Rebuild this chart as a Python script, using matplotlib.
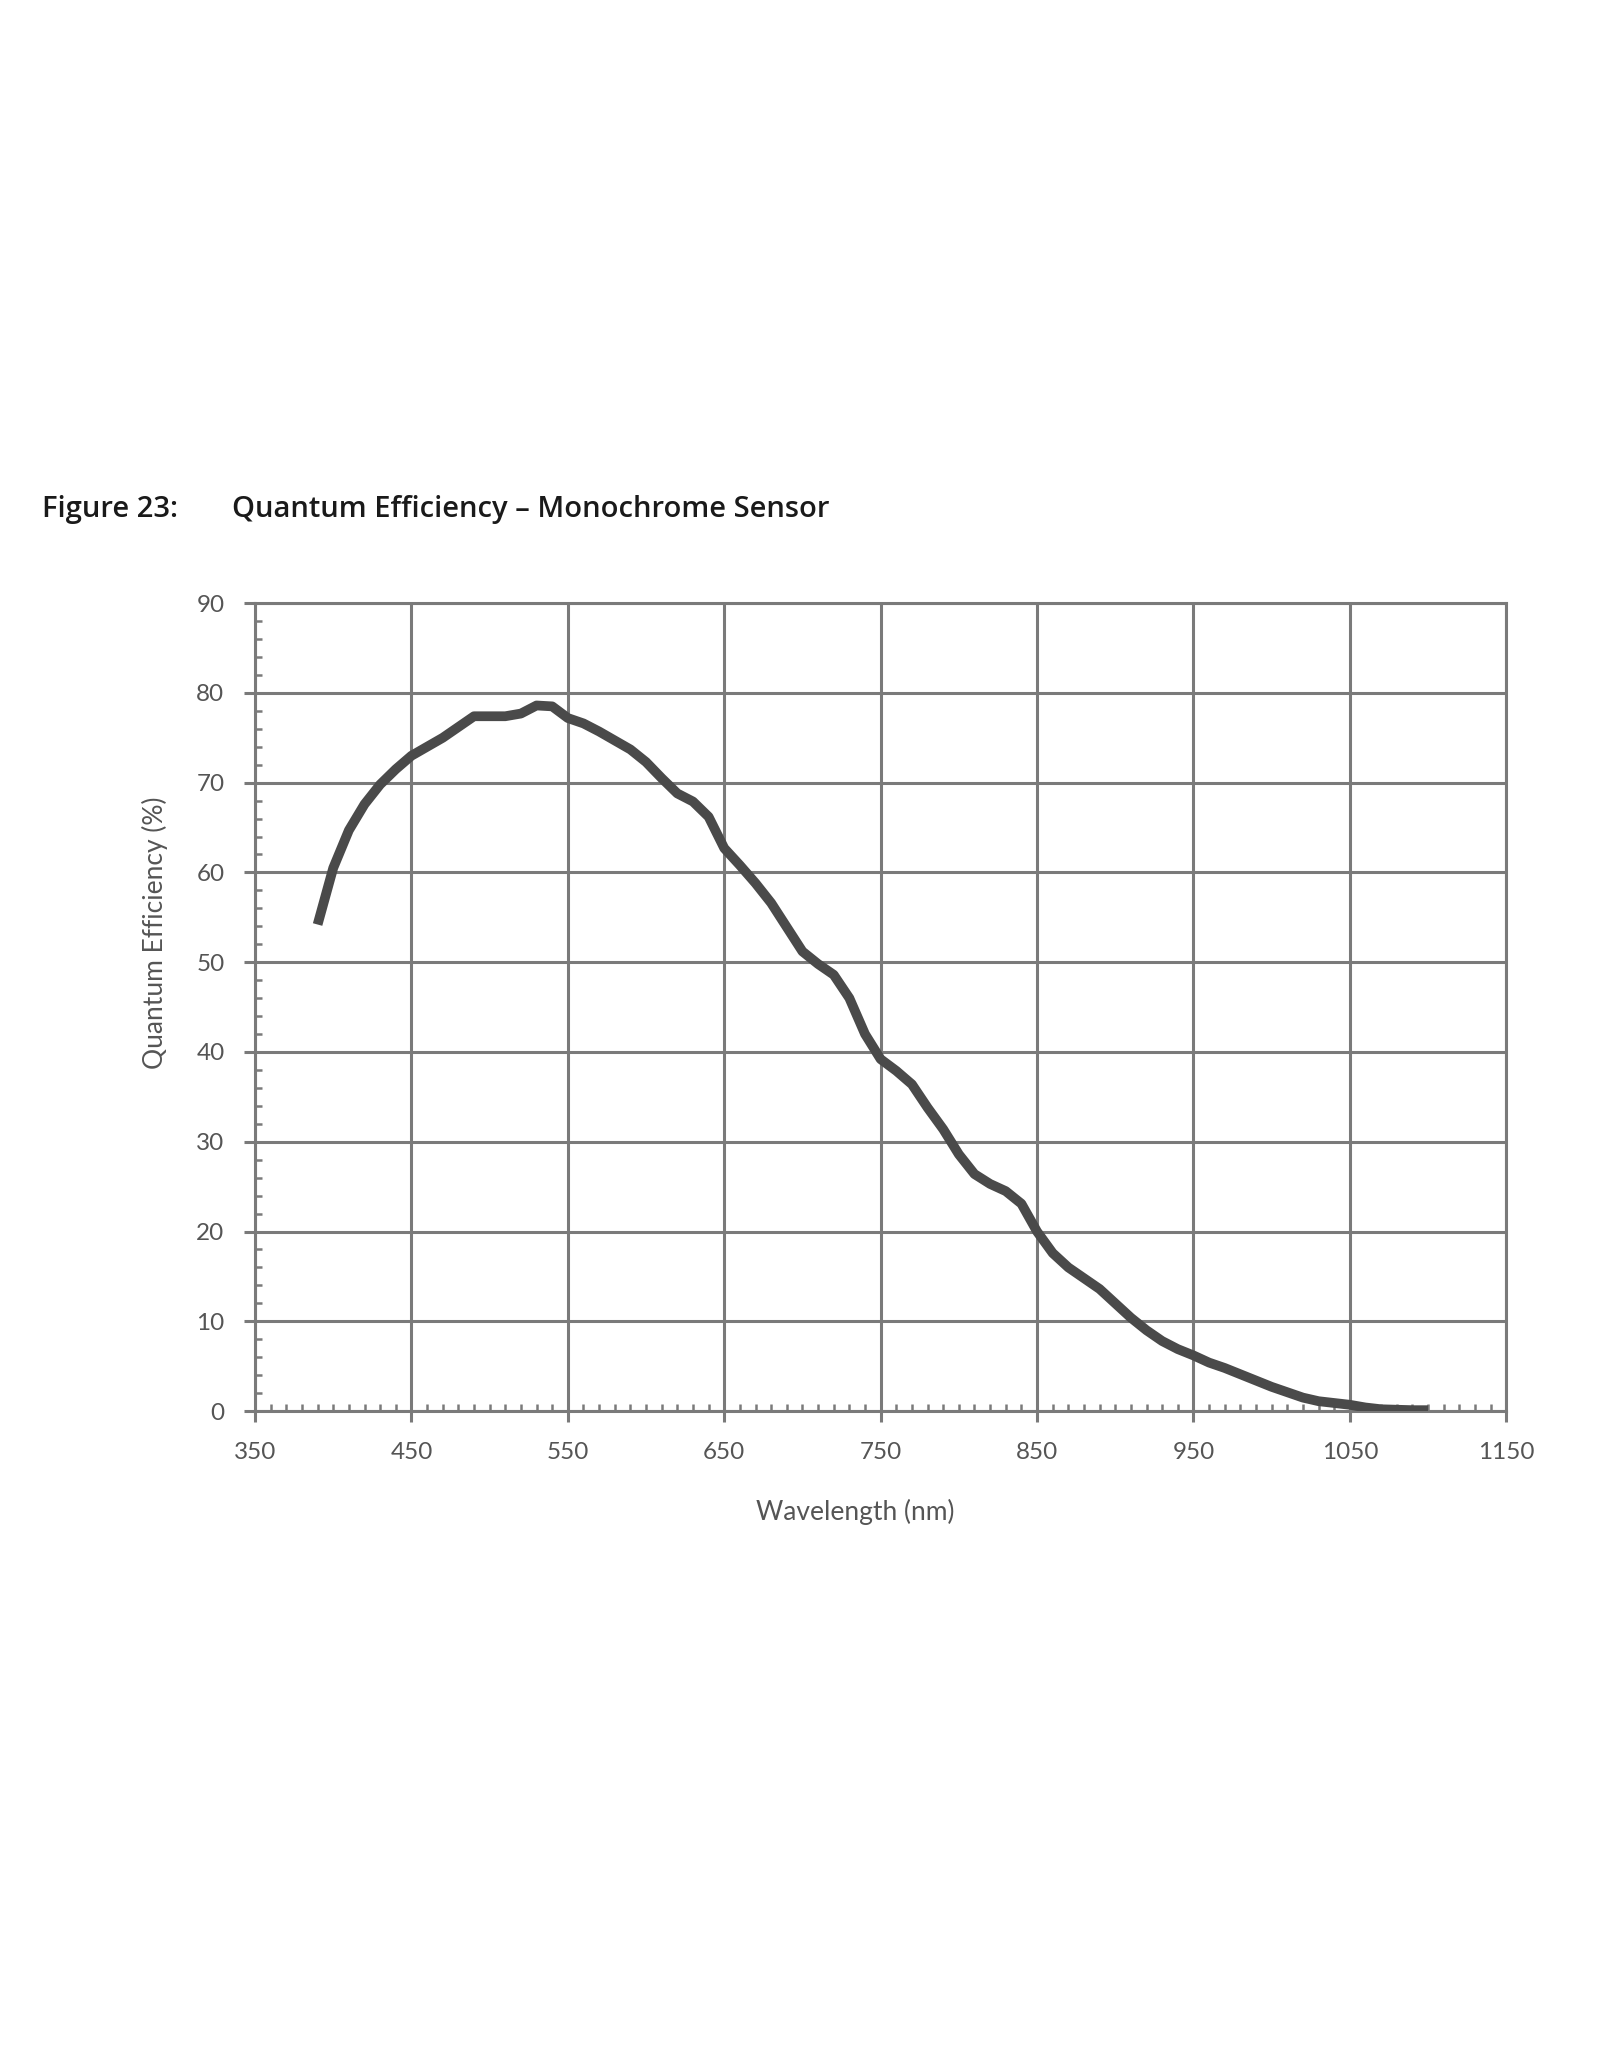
import matplotlib.pyplot as plt
from matplotlib.ticker import MultipleLocator

# QE curve
wavelength = [390, 400, 410, 420, 430, 440, 450, 460, 470, 480, 490, 500, 510, 520, 530, 540,
              550, 560, 570, 580, 590, 600, 610, 620, 630, 640, 650, 660, 670, 680, 690, 700,
              710, 720, 730, 740, 750, 760, 770, 780, 790, 800, 810, 820, 830, 840, 850, 860,
              870, 880, 890, 900, 910, 920, 930, 940, 950, 960, 970, 980, 990, 1000, 1010,
              1020, 1030, 1040, 1050, 1060, 1070, 1080, 1090, 1100]
qe = [54.2, 60.5, 64.7, 67.6, 69.8, 71.5, 73.0, 74.0, 75.0, 76.2, 77.4, 77.4, 77.4, 77.7, 78.6, 78.5,
      77.2, 76.6, 75.7, 74.7, 73.7, 72.3, 70.5, 68.8, 67.9, 66.2, 62.7, 60.8, 58.8, 56.6, 53.9, 51.2,
      49.8, 48.6, 46.0, 42.0, 39.2, 37.9, 36.4, 33.8, 31.4, 28.6, 26.4, 25.3, 24.5, 23.1, 20.0, 17.6,
      16.0, 14.8, 13.6, 12.0, 10.4, 9.0, 7.8, 6.9, 6.2, 5.4, 4.8, 4.1, 3.4, 2.7, 2.1,
      1.5, 1.1, 0.9, 0.7, 0.4, 0.2, 0.15, 0.1, 0.1]
x_ticks = [350, 450, 550, 650, 750, 850, 950, 1050, 1150]

grid_col = '#7a7a7a'
text_col = '#555555'

fig = plt.figure(figsize=(16, 20.48), dpi=100)
ax = fig.add_axes([0.1594, 0.311, 0.782, 0.3945])

ax.plot(wavelength, qe, color='#4a4a4a', linewidth=7, solid_joinstyle='round',
        solid_capstyle='butt', zorder=3)

ax.set_xlim(350, 1150)
ax.set_ylim(0, 90)
ax.set_xticks(x_ticks)
ax.xaxis.set_minor_locator(MultipleLocator(10))
ax.yaxis.set_major_locator(MultipleLocator(10))
ax.yaxis.set_minor_locator(MultipleLocator(2))
ax.grid(True, which='major', color=grid_col, linewidth=2.2, zorder=1)

for s in ax.spines.values():
    s.set_color(grid_col)
    s.set_linewidth(2.2)

ax.tick_params(which='major', direction='out', length=8, width=2.2, color=grid_col,
               labelsize=17.5, labelcolor=text_col, pad=14)
ax.tick_params(which='minor', direction='in', length=5, width=1.8, color=grid_col)
for lab in ax.get_xticklabels() + ax.get_yticklabels():
    lab.set_family('Lato')

ax.set_xlabel('Wavelength (nm)', fontsize=19, color=text_col, family='Lato', labelpad=26, x=0.48)
ax.set_ylabel('Quantum Efficiency (%)', fontsize=19, color=text_col, family='Lato', labelpad=20, y=0.592)

fig.text(0.026, 0.751, 'Figure 23:', fontsize=21, fontweight='semibold', family='Open Sans',
         color='#1a1a1a', va='center')
fig.text(0.145, 0.751, 'Quantum Efficiency \u2013 Monochrome Sensor', fontsize=21,
         fontweight='semibold', family='Open Sans', color='#1a1a1a', va='center')

fig.savefig('out.png', dpi=100, facecolor='white')
